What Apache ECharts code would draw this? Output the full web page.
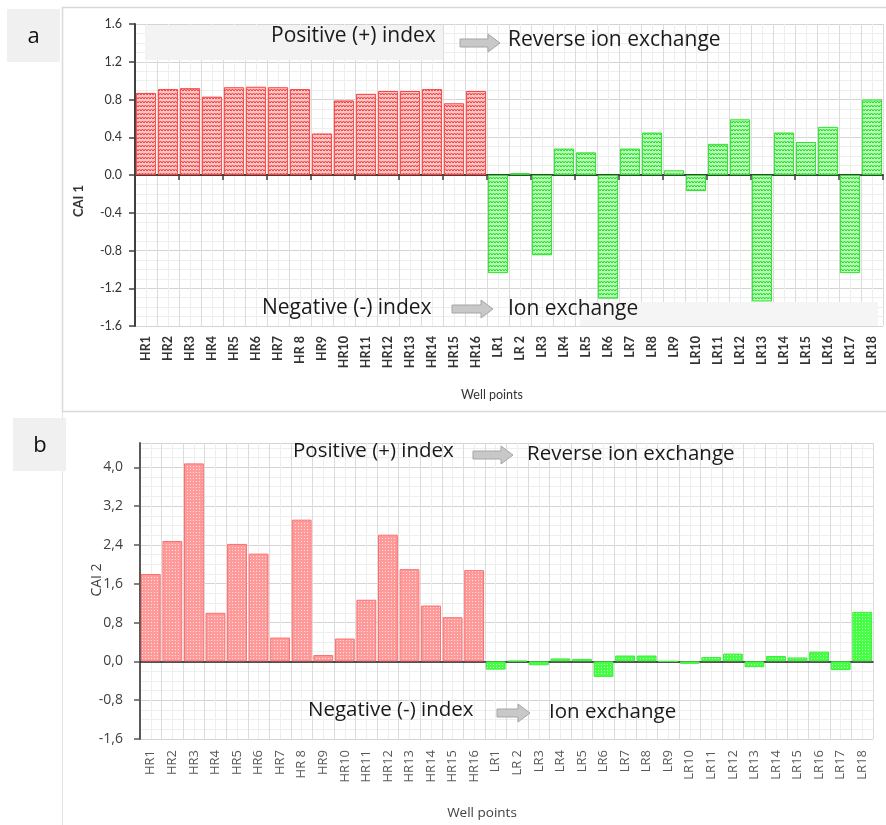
<!DOCTYPE html>
<html>
<head>
<meta charset="utf-8">
<script src="https://cdn.jsdelivr.net/npm/echarts@6/dist/echarts.min.js"></script>
<style>
  html, body { margin: 0; padding: 0; background: #ffffff; }
  #chart { width: 886px; height: 825px; }
</style>
</head>
<body>
<div id="chart"></div>
<script>
// Well points (HR = high-recharge group, LR = low-recharge group)
const wells = ['HR1', 'HR2', 'HR3', 'HR4', 'HR5', 'HR6', 'HR7', 'HR 8', 'HR9', 'HR10',
  'HR11', 'HR12', 'HR13', 'HR14', 'HR15', 'HR16',
  'LR1', 'LR 2', 'LR3', 'LR4', 'LR5', 'LR6', 'LR7', 'LR8', 'LR9', 'LR10',
  'LR11', 'LR12', 'LR13', 'LR14', 'LR15', 'LR16', 'LR17', 'LR18'];

// Chloro-alkaline index 1
const cai1 = [0.87, 0.91, 0.92, 0.83, 0.93, 0.935, 0.93, 0.91, 0.44, 0.79,
  0.86, 0.89, 0.89, 0.91, 0.76, 0.89,
  -1.04, 0.02, -0.85, 0.28, 0.24, -1.31, 0.28, 0.45, 0.05, -0.17,
  0.33, 0.59, -1.34, 0.45, 0.35, 0.51, -1.04, 0.80];

// Chloro-alkaline index 2
const cai2 = [1.80, 2.48, 4.08, 1.00, 2.42, 2.22, 0.49, 2.92, 0.13, 0.47,
  1.27, 2.61, 1.90, 1.15, 0.91, 1.88,
  -0.17, 0.01, -0.08, 0.06, 0.05, -0.32, 0.12, 0.12, 0.00, -0.05,
  0.09, 0.16, -0.12, 0.11, 0.08, 0.20, -0.18, 1.02];

// Value axis ranges
const axisA = { min: -1.6, max: 1.6, step: 0.4 };
const axisB = { min: -1.6, max: 4.5, step: 0.8 };

// ---- fill textures ----
function zigzag(bg, fg) {
  const c = document.createElement('canvas');
  c.width = 6; c.height = 4;
  const g = c.getContext('2d');
  g.fillStyle = bg; g.fillRect(0, 0, 6, 4);
  g.strokeStyle = fg; g.lineWidth = 1;
  g.beginPath();
  g.moveTo(0, 3); g.lineTo(1.5, 1); g.lineTo(3, 3); g.lineTo(4.5, 1); g.lineTo(6, 3);
  g.stroke();
  return { image: c, repeat: 'repeat' };
}
function dots(bg, fg) {
  const c = document.createElement('canvas');
  c.width = 3; c.height = 3;
  const g = c.getContext('2d');
  g.fillStyle = bg; g.fillRect(0, 0, 3, 3);
  g.fillStyle = fg; g.fillRect(1, 1, 1, 1);
  return { image: c, repeat: 'repeat' };
}

const styleA = {
  HR: { color: zigzag('#ffc4c4', '#ee3a3a'), borderColor: '#ff4040', borderWidth: 1 },
  LR: { color: zigzag('#b8ffb8', '#1fdc1f'), borderColor: '#2ee02e', borderWidth: 1 }
};
const styleB = {
  HR: { color: dots('#ff9a9a', '#ffe0e0'), borderColor: '#ff6e6e', borderWidth: 1 },
  LR: { color: dots('#44ff44', '#c0ffc0'), borderColor: '#3aee3a', borderWidth: 1 }
};
const group = name => name.slice(0, 2);

function onTick(v, ax) {
  const k = (v - ax.min) / ax.step;
  return Math.abs(k - Math.round(k)) < 1e-6;
}

const fontA = 'Lato';
const fontB = 'Open Sans';

// ---- grids and axes ----
const grids = [
  { left: 135, right: 3, top: 24, height: 302 },
  { left: 140, right: 13, top: 443, height: 296 }
];

function labelAxis(gi, font, size, color, margin, weight) {
  return {
    type: 'category', gridIndex: gi, data: wells, position: 'bottom',
    axisLine: { show: false, onZero: false }, axisTick: { show: false },
    splitLine: { show: false },
    axisLabel: { rotate: 90, interval: 0, margin: margin, fontFamily: font, fontSize: size,
      fontWeight: weight, color: color }
  };
}
function zeroAxis(gi, lineColor, lineWidth, ticks) {
  return {
    type: 'category', gridIndex: gi, data: wells, position: 'bottom',
    axisLine: { show: true, onZero: true, lineStyle: { color: lineColor, width: lineWidth } },
    axisTick: { show: ticks, length: 5, lineStyle: { color: lineColor, width: 1.5 } },
    axisLabel: { show: false }, splitLine: { show: false }
  };
}
function gridAxis(gi, major, minor) {
  return {
    type: 'value', gridIndex: gi, position: 'top', min: 0, max: wells.length, interval: 1,
    axisLine: { show: false }, axisTick: { show: false }, axisLabel: { show: false },
    splitLine: { show: true, lineStyle: { color: major, width: 1 } },
    minorTick: { show: false, splitNumber: 2 },
    minorSplitLine: { show: true, lineStyle: { color: minor, width: 1 } }
  };
}

const xAxes = [
  labelAxis(0, fontA, 12.5, '#333333', 10, 'bold'),
  zeroAxis(0, '#404040', 2, true),
  gridAxis(0, '#dcdcdc', '#eeeeee'),
  labelAxis(1, fontB, 13, '#595959', 11, 'normal'),
  zeroAxis(1, '#1a1a1a', 1.5, false),
  gridAxis(1, '#dcdcdc', '#eeeeee')
];

const yAxes = [
  {
    type: 'value', gridIndex: 0, min: axisA.min, max: axisA.max, interval: axisA.step,
    axisLine: { show: true, onZero: false, lineStyle: { color: '#404040', width: 2 } },
    axisTick: { show: true, length: 6, lineStyle: { color: '#404040', width: 1.5 } },
    axisLabel: { margin: 13, fontFamily: fontA, fontSize: 12.5, color: '#333333',
      formatter: v => v.toFixed(1) },
    splitLine: { show: true, lineStyle: { color: '#d4d4d4', width: 1 } },
    minorTick: { show: false, splitNumber: 4 },
    minorSplitLine: { show: true, lineStyle: { color: '#eeeeee', width: 1 } }
  },
  {
    type: 'value', gridIndex: 1, min: axisB.min, max: axisB.max, interval: axisB.step,
    axisLine: { show: true, onZero: false, lineStyle: { color: '#595959', width: 2 } },
    axisTick: { show: true, length: 6, lineStyle: { color: '#595959', width: 1.5 } },
    axisLabel: { margin: 17, fontFamily: fontB, fontSize: 14, color: '#404040',
      showMaxLabel: false,
      formatter: v => onTick(v, axisB) ? v.toFixed(1).replace('.', ',') : '' },
    splitLine: { show: true, lineStyle: { color: '#d4d4d4', width: 1 } },
    minorTick: { show: false, splitNumber: 4 },
    minorSplitLine: { show: true, lineStyle: { color: '#eeeeee', width: 1 } }
  }
];

const series = [
  {
    type: 'bar', xAxisIndex: 0, yAxisIndex: 0, barCategoryGap: '8%',
    data: cai1.map((v, i) => ({ value: v, itemStyle: styleA[group(wells[i])] }))
  },
  {
    type: 'bar', xAxisIndex: 3, yAxisIndex: 1, barCategoryGap: '8%',
    data: cai2.map((v, i) => ({ value: v, itemStyle: styleB[group(wells[i])] }))
  }
];

// ---- annotations ----
function arrow(x0, x1, cy) {
  const h = 12;
  return {
    type: 'polygon', z: 20,
    shape: { points: [[x0, cy - 4], [x1 - h, cy - 4], [x1 - h, cy - 9], [x1, cy],
      [x1 - h, cy + 9], [x1 - h, cy + 4], [x0, cy + 4]] },
    style: { fill: '#c8c8c8', stroke: '#a6a6a6', lineWidth: 1 }
  };
}
function note(txt, x, y, size) {
  return { type: 'text', z: 20, x: x, y: y,
    style: { text: txt, fontFamily: fontB, fontSize: size, fill: '#1a1a1a',
      align: 'left', verticalAlign: 'middle' } };
}
function box(x, y, w, h, fill) {
  return { type: 'rect', z: 15, shape: { x: x, y: y, width: w, height: h }, style: { fill: fill } };
}
function rotText(txt, x, y, font, size, color, weight) {
  return { type: 'text', z: 20, x: x, y: y, rotation: Math.PI / 2,
    style: { text: txt, fontFamily: font, fontSize: size, fill: color, fontWeight: weight || 'normal',
      align: 'center', verticalAlign: 'middle' } };
}
function plainText(txt, x, y, font, size, color, weight) {
  return { type: 'text', z: 20, x: x, y: y,
    style: { text: txt, fontFamily: font, fontSize: size, fill: color, fontWeight: weight || 'normal',
      align: 'center', verticalAlign: 'middle' } };
}

const graphics = [
  // panel frames
  { type: 'rect', z: 5, shape: { x: 62.5, y: 7.5, width: 830, height: 404 },
    style: { fill: 'none', stroke: '#d9d9d9', lineWidth: 1.5 } },
  { type: 'line', z: 5, shape: { x1: 62.5, y1: 412, x2: 62.5, y2: 825 },
    style: { stroke: '#e4e4e4', lineWidth: 1 } },
  // panel tags
  box(7, 9, 53, 53, '#f0f0f0'),
  plainText('a', 33.5, 37, fontB, 22, '#111111'),
  box(13, 418, 53, 53, '#f0f0f0'),
  plainText('b', 40, 446, fontB, 22, '#111111'),

  // panel a notes
  box(145, 25, 298, 35, '#f3f3f3'),
  note('Positive (+) index', 271, 36, 21),
  arrow(460, 500, 43),
  note('Reverse ion exchange', 508, 40, 21),
  box(580, 302, 298, 24, '#f5f5f5'),
  note('Negative (-) index', 262, 308, 21),
  arrow(452, 493, 309),
  note('Ion exchange', 508, 309, 21),

  // panel b notes
  note('Positive (+) index', 293, 451, 20.5),
  arrow(473, 513, 455),
  note('Reverse ion exchange', 527, 454, 20.5),
  note('Negative (-) index', 308, 710, 20.5),
  arrow(497, 530, 713),
  note('Ion exchange', 549, 712, 20.5),

  // axis titles
  rotText('CAI 1', 79, 201, fontA, 13, '#333333', 'bold'),
  plainText('Well points', 492, 395, fontA, 12.5, '#333333'),
  rotText('CAI 2', 97, 580, fontB, 14, '#404040'),
  plainText('Well points', 482, 813, fontB, 13.5, '#404040')
];

const chart = echarts.init(document.getElementById('chart'), null, { renderer: 'canvas' });
chart.setOption({
  animation: false,
  backgroundColor: '#ffffff',
  grid: grids,
  xAxis: xAxes,
  yAxis: yAxes,
  series: series,
  graphic: { elements: graphics }
});
</script>
</body>
</html>
